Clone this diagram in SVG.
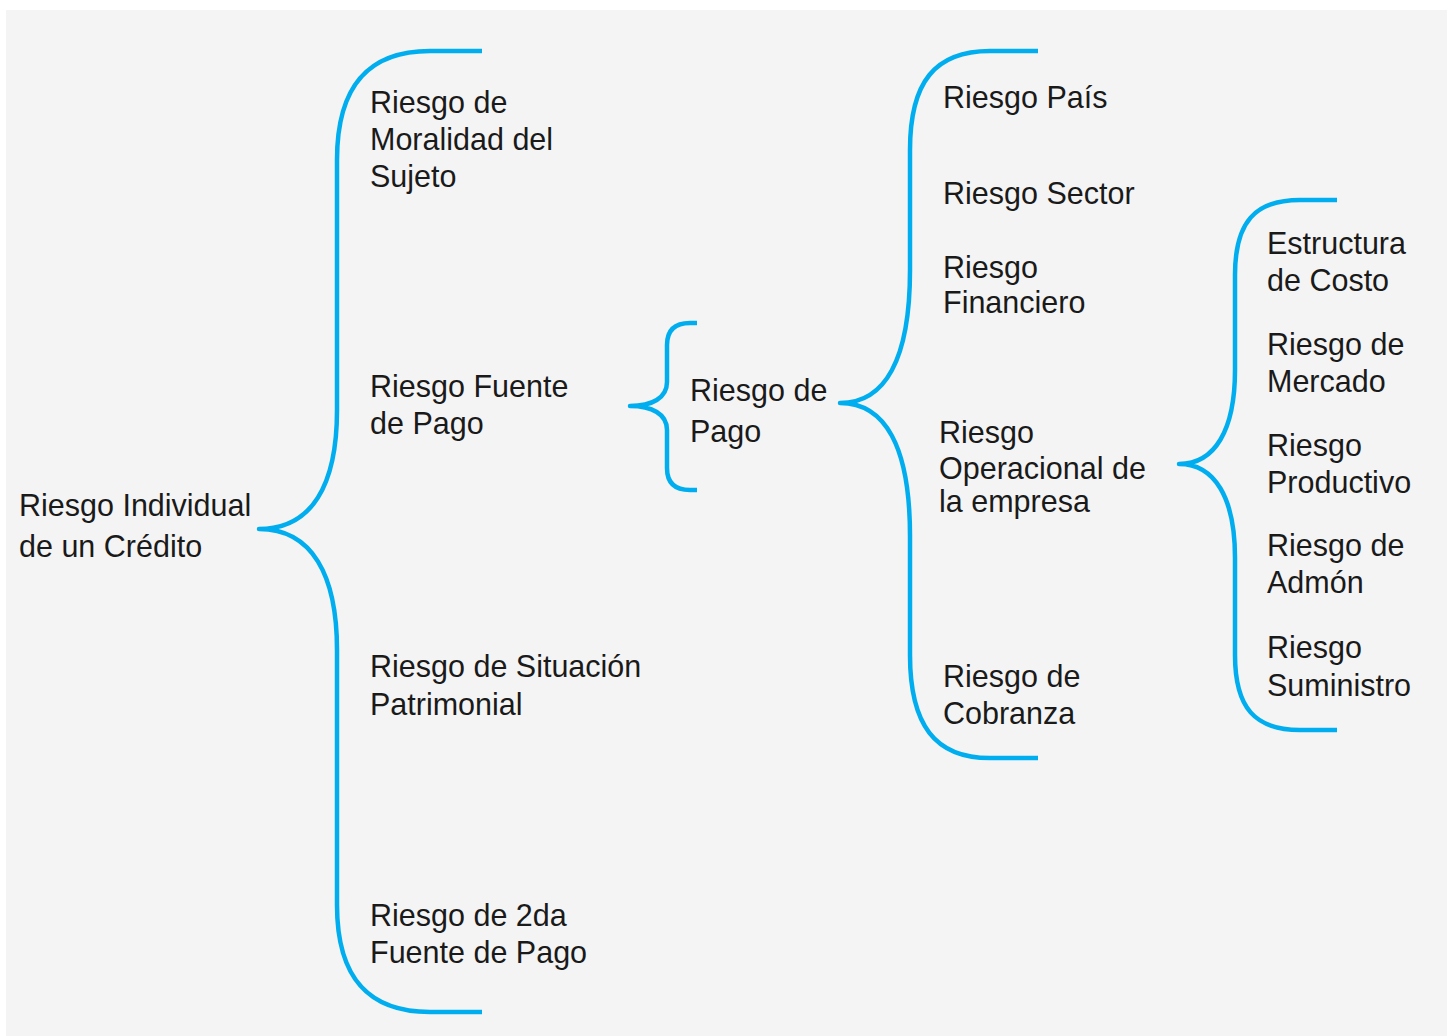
<svg xmlns="http://www.w3.org/2000/svg" width="1447" height="1036" viewBox="0 0 1447 1036">
<style>
.t{font-family:"Liberation Sans",Arial,sans-serif;font-size:30.5px;fill:#1a1a1a}
.b{fill:none;stroke:#00aeef;stroke-width:4.5;stroke-linejoin:round}
</style>
<rect x="0" y="0" width="1447" height="1036" fill="#ffffff"/>
<rect x="6" y="10" width="1441" height="1026" fill="#f4f4f4"/>
<g id="connectors">
<path class="b" d="M482,51 H430 C372,51 337,82 337,160 V410 C337,485 312,529 259,529 C312,529 337,575 337,650 V905 C337,982 372,1012 430,1012 H482"/>
<path class="b" d="M697,323 H690 C675,323 667,330 667,345 V382 C667,398 652,406 630,406 C652,406 667,414 667,430 V468 C667,483 675,490 690,490 H697"/>
<path class="b" d="M1038,51 H990 C935,51 910,82 910,150 V270 C910,360 885,403 840,403 C885,403 910,446 910,536 V655 C910,725 935,758 990,758 H1038"/>
<path class="b" d="M1337,200 H1300 C1255,200 1235,222 1235,275 V370 C1235,430 1215,464 1179,464 C1215,464 1235,498 1235,558 V655 C1235,708 1255,730 1300,730 H1337"/>
</g>
<g id="n-root"><text class="t" x="19" y="516">Riesgo Individual</text><text class="t" x="19" y="557">de un Crédito</text></g>
<g id="n-moralidad"><text class="t" x="370" y="113">Riesgo de</text><text class="t" x="370" y="150">Moralidad del</text><text class="t" x="370" y="187">Sujeto</text></g>
<g id="n-fuente"><text class="t" x="370" y="397">Riesgo Fuente</text><text class="t" x="370" y="434">de Pago</text></g>
<g id="n-situacion"><text class="t" x="370" y="677">Riesgo de Situación</text><text class="t" x="370" y="715">Patrimonial</text></g>
<g id="n-2da"><text class="t" x="370" y="926">Riesgo de 2da</text><text class="t" x="370" y="963">Fuente de Pago</text></g>
<g id="n-pago"><text class="t" x="690" y="401">Riesgo de</text><text class="t" x="690" y="442">Pago</text></g>
<g id="n-pais"><text class="t" x="943" y="108">Riesgo País</text></g>
<g id="n-sector"><text class="t" x="943" y="204">Riesgo Sector</text></g>
<g id="n-financiero"><text class="t" x="943" y="278">Riesgo</text><text class="t" x="943" y="313">Financiero</text></g>
<g id="n-operacional"><text class="t" x="939" y="443">Riesgo</text><text class="t" x="939" y="479">Operacional de</text><text class="t" x="939" y="512">la empresa</text></g>
<g id="n-cobranza"><text class="t" x="943" y="687">Riesgo de</text><text class="t" x="943" y="724">Cobranza</text></g>
<g id="n-costo"><text class="t" x="1267" y="254">Estructura</text><text class="t" x="1267" y="291">de Costo</text></g>
<g id="n-mercado"><text class="t" x="1267" y="355">Riesgo de</text><text class="t" x="1267" y="392">Mercado</text></g>
<g id="n-productivo"><text class="t" x="1267" y="456">Riesgo</text><text class="t" x="1267" y="493">Productivo</text></g>
<g id="n-admon"><text class="t" x="1267" y="556">Riesgo de</text><text class="t" x="1267" y="593">Admón</text></g>
<g id="n-suministro"><text class="t" x="1267" y="658">Riesgo</text><text class="t" x="1267" y="696">Suministro</text></g>
</svg>
